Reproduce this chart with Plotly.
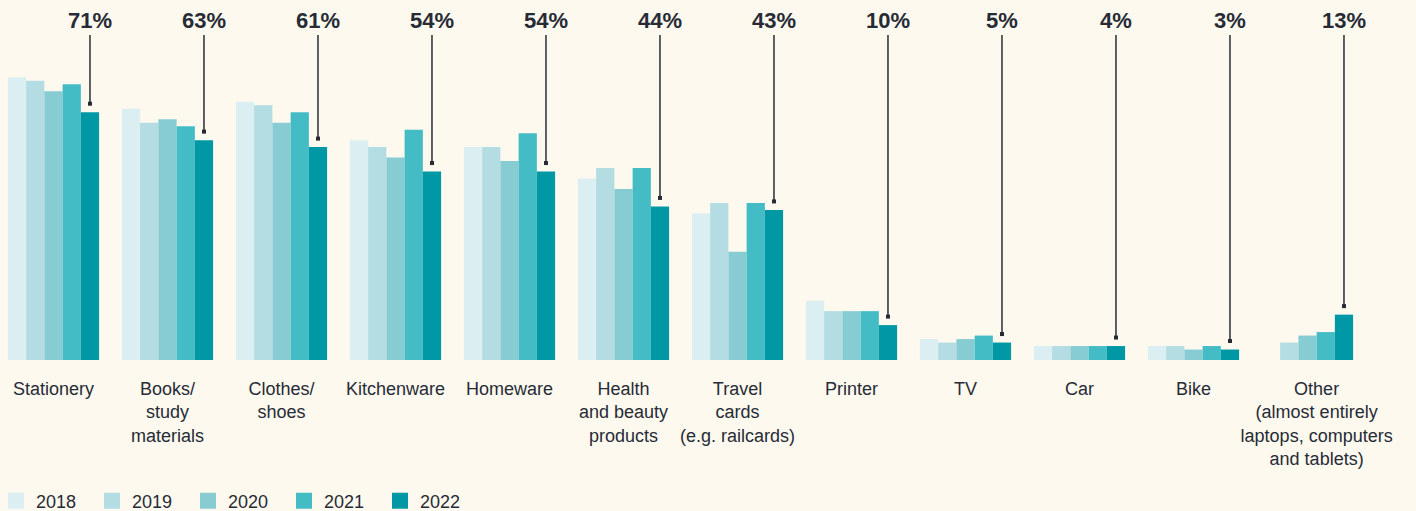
import plotly.graph_objects as go

categories = ["Stationery", "Books/<br>study<br>materials", "Clothes/<br>shoes", "Kitchenware",
              "Homeware", "Health<br>and beauty<br>products", "Travel<br>cards<br>(e.g. railcards)",
              "Printer", "TV", "Car", "Bike", "Other<br>(almost entirely<br>laptops, computers<br>and tablets)"]
years = ["2018", "2019", "2020", "2021", "2022"]
v2018 = [81, 72, 74, 63, 61, 52, 42, 17, 6, 4, 4, None]
v2019 = [80, 68, 73, 61, 61, 55, 45, 14, 5, 4, 4, 5]
v2020 = [77, 69, 68, 58, 57, 49, 31, 14, 6, 4, 3, 7]
v2021 = [79, 67, 71, 66, 65, 55, 45, 14, 7, 4, 4, 8]
v2022 = [71, 63, 61, 54, 54, 44, 43, 10, 5, 4, 3, 13]
series = [v2018, v2019, v2020, v2021, v2022]
colors = ["#dbeff2", "#b3dde2", "#87ccd3", "#44bcc6", "#0098a5"]

BG = "#fdf9ee"
INK = "#262b36"
PX_PER_UNIT = 3.49
PLOT_H = 360
ytop = PLOT_H / PX_PER_UNIT

x = list(range(len(categories)))
fig = go.Figure()
for yr, vals, c in zip(years, series, colors):
    fig.add_trace(go.Bar(x=x, y=vals, name=yr, marker=dict(color=c, line=dict(width=0)),
                         showlegend=False, hoverinfo="skip"))
# legend entries
for yr, c in zip(years, colors):
    fig.add_trace(go.Scatter(x=[None], y=[None], mode="markers", name=yr,
                             marker=dict(symbol="square", size=16, color=c)))

off = 0.32  # centre of the 2022 bar within a group
line_top = (PLOT_H - 35) / PX_PER_UNIT
label_y = (PLOT_H - 20) / PX_PER_UNIT
gap = 8.5 / PX_PER_UNIT
dot_x, dot_y = [], []
for i, v in enumerate(v2022):
    xi = i + off
    fig.add_shape(type="line", xref="x", yref="y", x0=xi, x1=xi, y0=v + gap, y1=line_top,
                  line=dict(color=INK, width=1.5))
    dot_x.append(xi)
    dot_y.append(v + gap)
    fig.add_annotation(x=xi, y=label_y, xref="x", yref="y", text=f"<b>{v}%</b>", showarrow=False,
                       font=dict(family="Liberation Sans", size=22, color=INK),
                       xanchor="center", yanchor="middle")
fig.add_trace(go.Scatter(x=dot_x, y=dot_y, mode="markers", showlegend=False, hoverinfo="skip",
                         marker=dict(symbol="square", size=4, color=INK)))

tickpos = list(x)
tickpos[-1] = x[-1] + 0.08  # "Other" label centred on its four bars

W, H = 1416, 511
fig.update_layout(
    width=W, height=H,
    paper_bgcolor=BG, plot_bgcolor=BG,
    margin=dict(l=0, r=0, t=0, b=H - PLOT_H, pad=0, autoexpand=False),
    barmode="group", bargap=0.2, bargroupgap=0,
    font=dict(family="Liberation Sans", size=18, color=INK),
    legend=dict(orientation="h", x=-4 / W, xanchor="left", y=(PLOT_H - 501) / PLOT_H, yanchor="middle",
                entrywidth=51, entrywidthmode="pixels", bgcolor="rgba(0,0,0,0)",
                font=dict(size=18, color=INK), itemclick=False),
    xaxis=dict(range=[(0 - 53.5) / 114, (W - 53.5) / 114], tickvals=tickpos, ticktext=categories,
               showgrid=False, zeroline=False, showline=False, ticks="", automargin=False,
               ticklabelstandoff=16, tickfont=dict(size=18, color=INK), fixedrange=True),
    yaxis=dict(range=[0, ytop], visible=False, fixedrange=True),
    showlegend=True,
)
css = ("var s=document.documentElement.style;s.margin='0';s.padding='0';s.overflow='hidden';"
       "var b=document.body.style;b.margin='0';b.padding='0';b.overflow='hidden';b.background='%s';" % BG)
fig.write_html("out.html", config={"displayModeBar": False}, post_script=css)
